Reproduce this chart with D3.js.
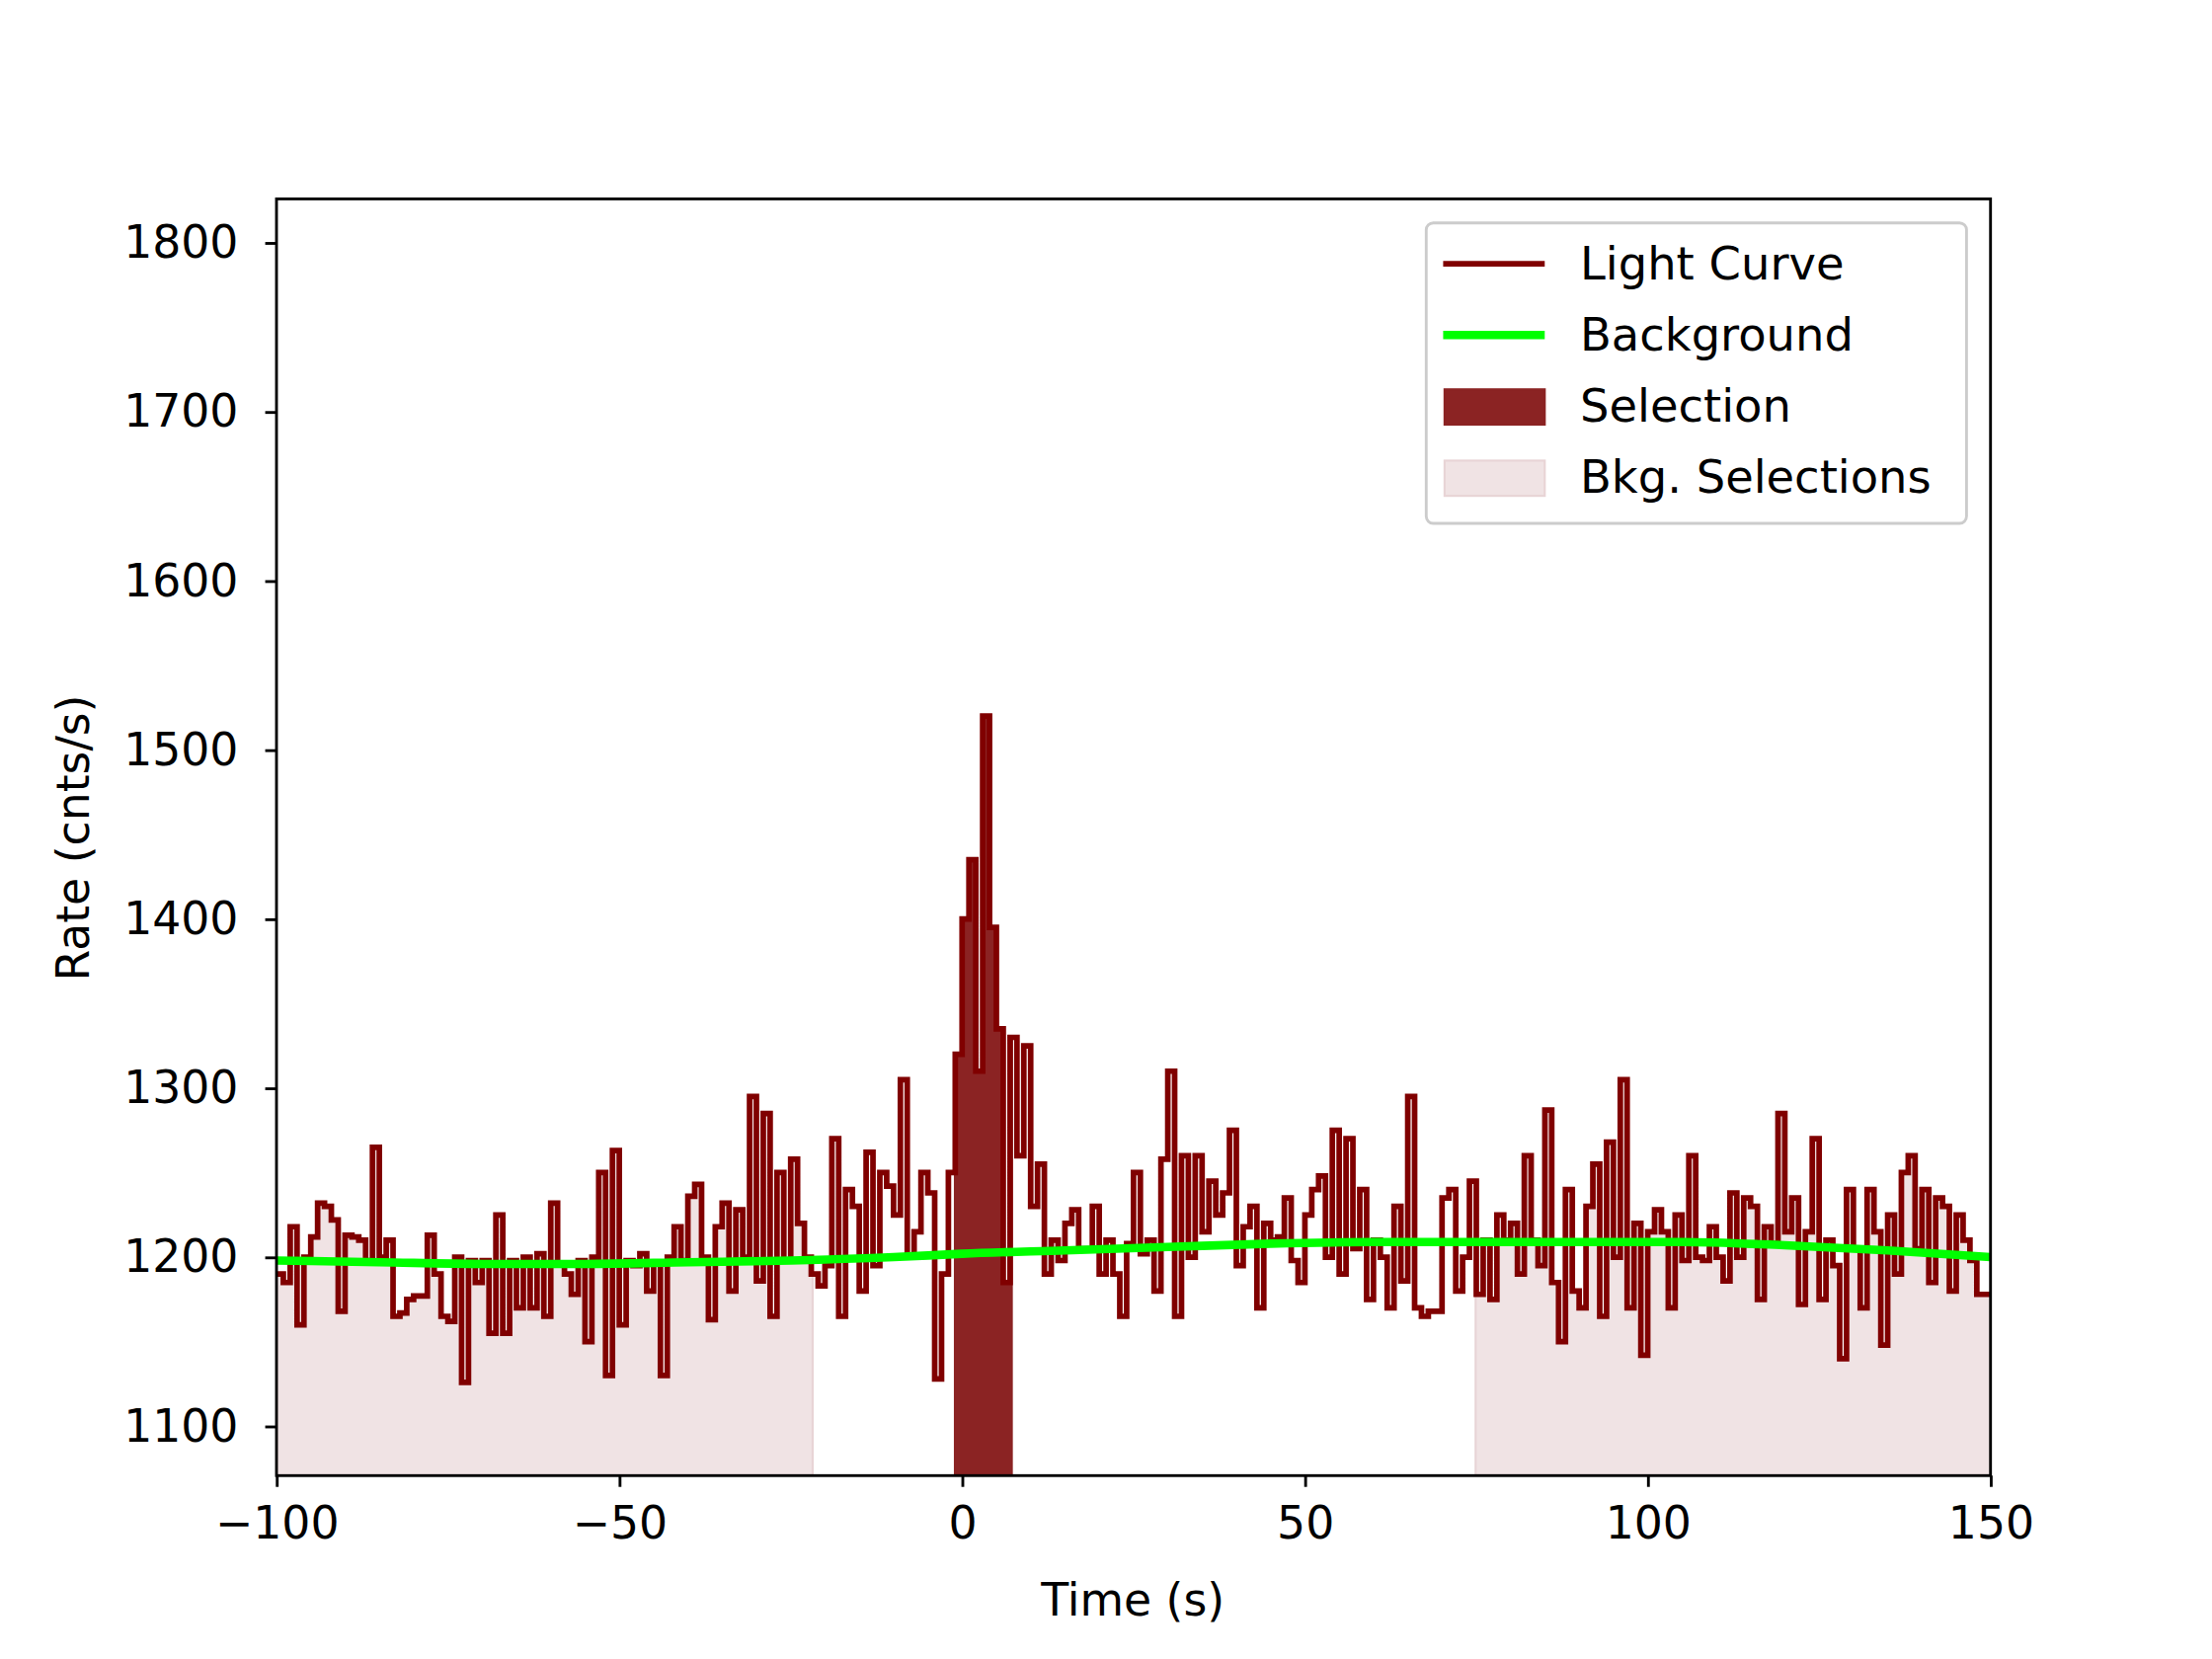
<!DOCTYPE html>
<meta http-equiv="content-type" content="text/html; charset=utf-8" />
<html lang="en">
<head>
<title>Light Curve</title>
<script src="https://d3js.org/d3.v7.min.js"></script>
<style>
body { margin: 0; background: #fff; }
svg { display: block; font-family: "DejaVu Sans", sans-serif; }
</style>
</head>
<body>
<div id="plot"></div>
<script>
// light curve, 1 s bins starting at -100 s
var binStart = -100;
var binWidth = 1;
var rates = [
  1190,1185,1218,1160,1200,1212,1232,1230,1222,1168,
  1213,1212,1210,1198,1265,1200,1210,1165,1167,1175,
  1177,1177,1213,1190,1165,1162,1200,1126,1198,1185,
  1198,1155,1225,1155,1198,1170,1200,1170,1202,1165,
  1232,1196,1190,1178,1198,1150,1200,1250,1130,1263,
  1160,1198,1195,1202,1180,1196,1130,1200,1218,1198,
  1236,1243,1200,1163,1218,1232,1180,1228,1200,1295,
  1186,1285,1165,1250,1198,1258,1220,1200,1190,1183,
  1195,1270,1165,1240,1230,1180,1262,1195,1250,1242,
  1225,1305,1200,1215,1250,1238,1128,1190,1250,1320,
  1400,1435,1310,1520,1395,1335,1185,1330,1260,1325,
  1230,1255,1190,1210,1198,1220,1228,1205,1205,1230,
  1190,1210,1190,1165,1208,1250,1202,1210,1180,1258,
  1310,1165,1260,1200,1260,1215,1245,1225,1238,1275,
  1195,1218,1230,1170,1220,1210,1212,1235,1198,1185,
  1225,1240,1248,1200,1275,1190,1270,1205,1240,1175,
  1210,1200,1170,1230,1186,1295,1170,1165,1168,1168,
  1235,1240,1180,1200,1245,1178,1210,1175,1225,1210,
  1220,1190,1260,1210,1195,1287,1185,1150,1240,1180,
  1170,1230,1255,1165,1268,1200,1305,1170,1220,1142,
  1215,1228,1215,1170,1225,1198,1260,1200,1198,1218,
  1200,1186,1238,1200,1235,1230,1175,1218,1208,1285,
  1215,1235,1172,1215,1270,1175,1210,1195,1140,1240,
  1205,1170,1240,1215,1148,1225,1190,1250,1260,1205,
  1240,1185,1235,1230,1180,1225,1210,1198,1178,1178
];
// background model
var bkgTimes = [-100,-85,-70,-55,-40,-25,-10,0,15,30,45,60,75,90,105,120,135,150];
var bkgRates = [1198,1197,1196,1196,1197,1198,1200,1202,1204,1206,1208,1209,1209,1209,1209,1207,1204,1200];
var selection = [-1.2, 7.4];
var bkgSelections = [[-100, -21.8], [74.9, 150]];
var xTicks = [-100, -50, 0, 50, 100, 150];
var yTicks = [1100, 1200, 1300, 1400, 1500, 1600, 1700, 1800];

var W = 1568, H = 1176;
var FS = 32;
var svg = d3.select("#plot").append("svg")
  .attr("width", 2240).attr("height", 1680)
  .attr("viewBox", "0 0 " + W + " " + H);

var x = d3.scaleLinear().domain([-100, 150]).range([196, 1411]);
var y = d3.scaleLinear().domain([1070.8, 1825.9]).range([1046, 141]);

var pts = rates.map(function(r, i) { return [binStart + i * binWidth, r]; });
pts.push([binStart + rates.length * binWidth, rates[rates.length - 1]]);

var defs = svg.append("defs");
function clip(id, t0, t1) {
  defs.append("clipPath").attr("id", id).append("rect")
    .attr("x", x(t0)).attr("y", 0).attr("width", x(t1) - x(t0)).attr("height", H);
}
bkgSelections.forEach(function(s, i) { clip("bk" + i, s[0], s[1]); });
clip("sel", selection[0], selection[1]);

var area = d3.area().curve(d3.curveStepAfter)
  .x(function(d) { return x(d[0]); }).y0(y(1070.8)).y1(function(d) { return y(d[1]); });

bkgSelections.forEach(function(s, i) {
  svg.append("path").attr("d", area(pts)).attr("fill", "#f0e3e4")
    .attr("clip-path", "url(#bk" + i + ")");
  svg.append("line").attr("x1", x(s[0])).attr("x2", x(s[0]))
    .attr("y1", y(1070.8)).attr("y2", y(1195)).attr("stroke", "#e8d4d6").attr("stroke-width", 1.5);
  svg.append("line").attr("x1", x(s[1])).attr("x2", x(s[1]))
    .attr("y1", y(1070.8)).attr("y2", y(1195)).attr("stroke", "#e8d4d6").attr("stroke-width", 1.5);
});
svg.append("path").attr("d", area(pts)).attr("fill", "#8b2323")
  .attr("clip-path", "url(#sel)");

var line = d3.line().curve(d3.curveStepAfter)
  .x(function(d) { return x(d[0]); }).y(function(d) { return y(d[1]); });

defs.append("clipPath").attr("id", "plotArea").append("rect")
  .attr("x", 196).attr("y", 141).attr("width", 1215).attr("height", 905);

svg.append("path").attr("d", line(pts)).attr("fill", "none")
  .attr("stroke", "#800000").attr("stroke-width", 4).attr("clip-path", "url(#plotArea)");

svg.append("path")
  .attr("d", d3.line().curve(d3.curveMonotoneX)
    .x(function(d, i) { return x(bkgTimes[i]); }).y(function(d) { return y(d); })(bkgRates))
  .attr("fill", "none").attr("stroke", "#00ff00").attr("stroke-width", 6)
  .attr("clip-path", "url(#plotArea)");

// frame
svg.append("rect").attr("x", 196).attr("y", 141).attr("width", 1215).attr("height", 905)
  .attr("fill", "none").attr("stroke", "#000").attr("stroke-width", 2);

var xAxis = svg.append("g").attr("transform", "translate(0,1046)")
  .call(d3.axisBottom(x).tickValues(xTicks).tickSize(8).tickPadding(14)
    .tickFormat(function(d) { return d < 0 ? "\u2212" + (-d) : d; }));
var yAxis = svg.append("g").attr("transform", "translate(196,0)")
  .call(d3.axisLeft(y).tickValues(yTicks).tickSize(8).tickPadding(19).tickFormat(d3.format("d")));
[xAxis, yAxis].forEach(function(g) {
  g.select(".domain").remove();
  g.selectAll("line").attr("stroke-width", 2);
  g.selectAll("text").attr("font-size", FS).attr("font-family", "DejaVu Sans").attr("fill", "#000");
});

svg.append("text").attr("x", 803).attr("y", 1145).attr("text-anchor", "middle")
  .attr("font-size", FS).text("Time (s)");
svg.append("text").attr("transform", "translate(63,594) rotate(-90)").attr("text-anchor", "middle")
  .attr("font-size", FS).text("Rate (cnts/s)");

// legend
var lg = svg.append("g");
lg.append("rect").attr("x", 1011).attr("y", 158).attr("width", 383).attr("height", 213)
  .attr("rx", 5).attr("fill", "#fff").attr("fill-opacity", 0.8)
  .attr("stroke", "#ccc").attr("stroke-width", 2);
var items = [
  { label: "Light Curve", type: "line", color: "#800000", w: 4 },
  { label: "Background", type: "line", color: "#00ff00", w: 6 },
  { label: "Selection", type: "box", color: "#8b2323", stroke: "#8b2323" },
  { label: "Bkg. Selections", type: "box", color: "#f0e3e4", stroke: "#e8d4d6" }
];
items.forEach(function(it, i) {
  var cy = 187 + i * 50.5;
  if (it.type === "line") {
    lg.append("line").attr("x1", 1023).attr("x2", 1095).attr("y1", cy).attr("y2", cy)
      .attr("stroke", it.color).attr("stroke-width", it.w);
  } else {
    lg.append("rect").attr("x", 1024).attr("y", cy - 12).attr("width", 71).attr("height", 25)
      .attr("fill", it.color).attr("stroke", it.stroke).attr("stroke-width", 1.5);
  }
  lg.append("text").attr("x", 1120).attr("y", cy + 11).attr("font-size", 32.5).text(it.label);
});
</script>
</body>
</html>
